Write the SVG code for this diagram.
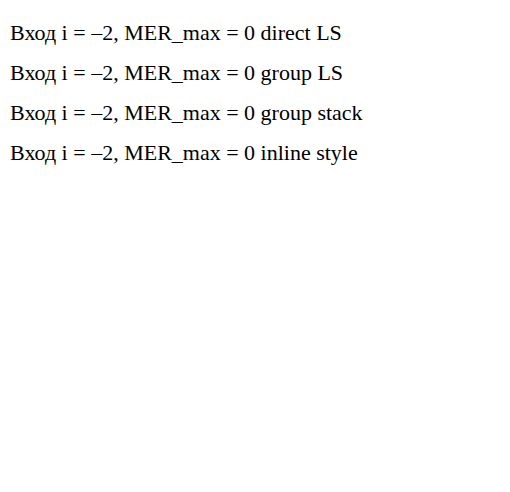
<svg xmlns="http://www.w3.org/2000/svg" width="510" height="492" viewBox="0 0 510 492">
<defs>
<style>
.s{fill:#fff;stroke:#000;stroke-width:1}
</style>
</defs>
<rect width="510" height="492" fill="#fff"/>
<text x="10" y="40" font-family="Liberation Serif" font-size="22">Вход i = –2, MER_max = 0 direct LS</text>
<g font-family="Liberation Serif" font-size="22"><text x="10" y="80">Вход i = –2, MER_max = 0 group LS</text></g>
<g font-family="'Liberation Serif', 'Times New Roman', serif" font-size="22"><text x="10" y="120">Вход i = –2, MER_max = 0 group stack</text></g>
<text x="10" y="160" style="font-family:'Liberation Serif',serif;font-size:22px">Вход i = –2, MER_max = 0 inline style</text>
</svg>
